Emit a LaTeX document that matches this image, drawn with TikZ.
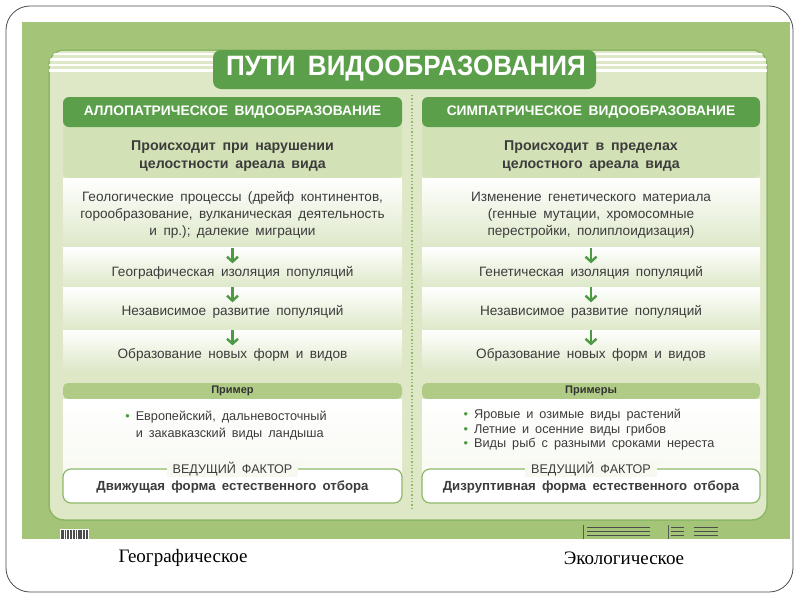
\documentclass[tikz,border=0pt]{standalone}
\usepackage{fontspec}
\setmainfont{Liberation Sans}[WordSpace=1.7]
\newfontfamily\capfont{Liberation Serif}
\usetikzlibrary{arrows.meta}
\definecolor{postergreen}{HTML}{A4C577}
\definecolor{panelgreen}{HTML}{DEE8C7}
\definecolor{rimgreen}{HTML}{8DB868}
\definecolor{darkgreen}{HTML}{5C9F4B}
\definecolor{condgreen}{HTML}{D3E2B6}
\definecolor{rowgreen}{HTML}{DDE8C8}
\definecolor{bargreen}{HTML}{B0CB86}
\definecolor{arrowgreen}{HTML}{4E9A44}
\definecolor{textgray}{HTML}{3C3C3C}

\begin{document}
\begin{tikzpicture}[x=1pt,y=-1pt,
  every node/.style={inner sep=0pt, text=textgray, align=center},
  hdr/.style={text=white, font=\fontsize{13.8}{15}\selectfont\bfseries},
  cond/.style={font=\fontsize{14.2}{18}\selectfont\bfseries},
  txt/.style={font=\fontsize{13.6}{17}\selectfont},
  ex/.style={align=left, font=\fontsize{12.7}{17}\selectfont},
  bar/.style={font=\fontsize{11}{12}\selectfont\bfseries, text=black!80},
  factor/.style={fill=white!75!panelgreen, inner xsep=6pt, inner ysep=1pt, font=\fontsize{12.6}{14}\selectfont},
  lead/.style={font=\fontsize{13.2}{15}\selectfont\bfseries},
  row/.style={top color=white, bottom color=rowgreen},
  arr/.style={draw=arrowgreen, line width=2.4pt, -{Straight Barb[length=5pt,width=11pt]}}]
  \useasboundingbox (0,0) rectangle (800,600);
  \fill[white] (0,0) rectangle (800,600);
  \fill[postergreen] (22,22) rectangle (790,539);
  \draw[rimgreen, line width=1.5pt, fill=panelgreen, rounded corners=15pt] (49,50) rectangle (767,520);
  \begin{scope}
    \clip[rounded corners=15pt] (49,50) rectangle (767,520);
    \foreach \y in {54,59.5,65,70.5} {
      \draw[white, line width=2.5pt] (49,\y) -- (213,\y);
      \draw[white, line width=2.5pt] (596,\y) -- (767,\y);
    }
  \end{scope}
  \fill[darkgreen, rounded corners=8pt] (213,50) rectangle (596,89);
  \node[font=\fontsize{28}{28}\selectfont\bfseries, text=white, xscale=0.93] (title) at (406,69) {ПУТИ ВИДООБРАЗОВАНИЯ};
  \draw[rimgreen, dotted, line width=1.3pt] (412,95) -- (412,508);

  % left column
  \fill[condgreen, rounded corners=5pt] (63,120) rectangle (402,178);
  \fill[darkgreen, rounded corners=6pt] (63,97) rectangle (402,127);
  \shade[row] (63,178) rectangle (402,247);
  \shade[row] (63,247) rectangle (402,287);
  \shade[row] (63,287) rectangle (402,330);
  \shade[row] (63,330) rectangle (402,370);
  \fill[bargreen, rounded corners=5pt] (63,383) rectangle (402,399);
  \shade[top color=white, bottom color=white!75!panelgreen] (63,399) rectangle (402,476);
  \draw[rimgreen, line width=1.2pt, fill=white, rounded corners=8pt] (63,469) rectangle (402,503);
  \node[hdr] (hdrL) at (232.5,112) {АЛЛОПАТРИЧЕСКОЕ ВИДООБРАЗОВАНИЕ};
  \node[cond] (condL) at (232.5,156) {Происходит при нарушении\\целостности ареала вида};
  \node[txt] (srcL) at (232.5,215) {Геологические процессы (дрейф континентов,\\горообразование, вулканическая деятельность\\и пр.); далекие миграции};
  \node[txt] (isoL) at (232.5,273) {Географическая изоляция популяций};
  \node[txt] (devL) at (232.5,312) {Независимое развитие популяций};
  \node[txt] (newL) at (232.5,355) {Образование новых форм и видов};
  \node[bar] (exhL) at (232.5,391) {Пример};
  \node[ex] (exL) at (226,425.5) {{\color{arrowgreen}•} Европейский, дальневосточный\\\phantom{• }и закавказский виды ландыша};
  \node[factor] (facL) at (232.5,469) {ВЕДУЩИЙ ФАКТОР};
  \node[lead] (leadL) at (232.5,487) {Движущая форма естественного отбора};
  \draw[arr] ([yshift=18pt]isoL.north) -- ([yshift=3pt]isoL.north);
  \draw[arr] ([yshift=18pt]devL.north) -- ([yshift=3pt]devL.north);
  \draw[arr] ([yshift=18pt]newL.north) -- ([yshift=3pt]newL.north);

  % right column
  \fill[condgreen, rounded corners=5pt] (422,120) rectangle (760,178);
  \fill[darkgreen, rounded corners=6pt] (422,97) rectangle (760,127);
  \shade[row] (422,178) rectangle (760,247);
  \shade[row] (422,247) rectangle (760,287);
  \shade[row] (422,287) rectangle (760,330);
  \shade[row] (422,330) rectangle (760,370);
  \fill[bargreen, rounded corners=5pt] (422,383) rectangle (760,399);
  \shade[top color=white, bottom color=white!75!panelgreen] (422,399) rectangle (760,476);
  \draw[rimgreen, line width=1.2pt, fill=white, rounded corners=8pt] (422,469) rectangle (760,503);
  \node[hdr] (hdrR) at (591,112) {СИМПАТРИЧЕСКОЕ ВИДООБРАЗОВАНИЕ};
  \node[cond] (condR) at (591,156) {Происходит в пределах\\целостного ареала вида};
  \node[txt] (srcR) at (591,215) {Изменение генетического материала\\(генные мутации, хромосомные\\перестройки, полиплоидизация)};
  \node[txt] (isoR) at (591,273) {Генетическая изоляция популяций};
  \node[txt] (devR) at (591,312) {Независимое развитие популяций};
  \node[txt] (newR) at (591,355) {Образование новых форм и видов};
  \node[bar] (exhR) at (591,391) {Примеры};
  \node[ex, font=\fontsize{12.7}{14.5}\selectfont] (exR) at (589,430) {{\color{arrowgreen}•} Яровые и озимые виды растений\\{\color{arrowgreen}•} Летние и осенние виды грибов\\{\color{arrowgreen}•} Виды рыб с разными сроками нереста};
  \node[factor] (facR) at (591,469) {ВЕДУЩИЙ ФАКТОР};
  \node[lead] (leadR) at (591,487) {Дизруптивная форма естественного отбора};
  \draw[arr] ([yshift=18pt]isoR.north) -- ([yshift=3pt]isoR.north);
  \draw[arr] ([yshift=18pt]devR.north) -- ([yshift=3pt]devR.north);
  \draw[arr] ([yshift=18pt]newR.north) -- ([yshift=3pt]newR.north);

  % footer
  \fill[white] (60,529) rectangle (89,539);
  \foreach \x/\w in {61/0.8,62.5/0.5,63.8/1.2,65.6/0.5,67/0.8,68.5/1.3,70.4/0.5,71.8/0.9,73.3/0.5,74.7/1.2,76.5/0.6,78/0.9,79.6/0.5,81/1.2,82.8/0.6,84.2/0.9,85.8/0.5,87.3/1}
    \draw[black!70, line width=\w pt] (\x,530) -- (\x,539);
  \draw[gray!70!black, line width=0.6pt] (583,525) -- (583,539);
  \draw[gray!70!black, line width=0.6pt] (668,525) -- (668,539);
  \foreach \y in {527,531,535} {
    \draw[gray!60!black, line width=0.7pt] (587,\y) -- (650,\y);
    \draw[gray!60!black, line width=0.7pt] (671,\y) -- (684,\y);
    \draw[gray!60!black, line width=0.7pt] (694,\y) -- (718,\y);
  }

  \node[font=\capfont\fontsize{19}{22}\selectfont, text=black] (geo) at (183,558) {Географическое};
  \node[font=\capfont\fontsize{19}{22}\selectfont, text=black] (eco) at (624,558) {Экологическое};
  \draw[gray!60!black, line width=0.8pt, rounded corners=24pt] (6,6) rectangle (793,592);
\end{tikzpicture}
\end{document}
